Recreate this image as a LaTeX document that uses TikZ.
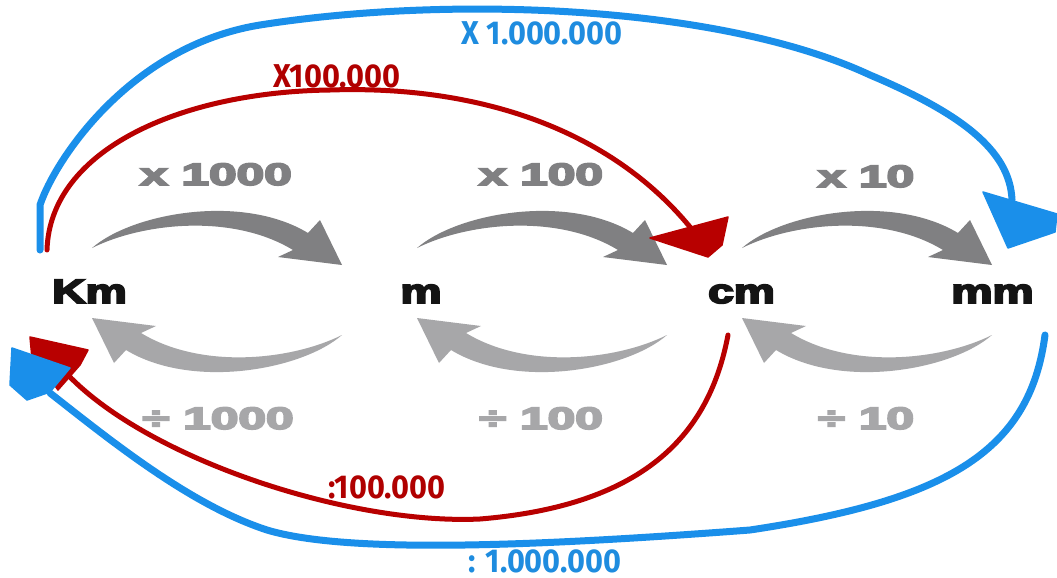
\documentclass[tikz,border=0pt]{standalone}
\usepackage{fontspec}
\setmainfont{Liberation Sans}
\newfontfamily\heavyfont{Liberation Sans Bold}[FakeBold=5]
\newfontfamily\labfont{Fira Sans}
\definecolor{gdark}{HTML}{808082}
\definecolor{glight}{HTML}{A7A7A9}
\definecolor{bline}{HTML}{1A8FEA}
\definecolor{btext}{HTML}{1E8CDF}
\definecolor{rline}{HTML}{B80000}
\definecolor{rtext}{HTML}{B00000}
\newcommand{\wideA}[1]{\scalebox{1.36}[1]{#1}}
\newcommand{\wideB}[1]{\scalebox{1.6}[1]{#1}}
\newcommand{\narrowC}[1]{\scalebox{0.93}[1]{#1}}
\tikzset{
  unitlbl/.style={font=\heavyfont\fontsize{34}{40}\selectfont, text=black!92, inner sep=0pt, anchor=base},
  mullbl/.style={font=\heavyfont\fontsize{31}{36}\selectfont, text=gdark, inner sep=0pt, anchor=base},
  divlbl/.style={font=\heavyfont\fontsize{31}{36}\selectfont, text=glight, inner sep=0pt, anchor=base},
  bluelbl/.style={font=\labfont\fontsize{33}{36}\selectfont\bfseries, text=btext, inner sep=0pt, anchor=base},
  redlbl/.style={font=\labfont\fontsize{33}{36}\selectfont\bfseries, text=rtext, inner sep=0pt, anchor=base},
  blueline/.style={draw=bline, line width=7pt, line cap=round, line join=round},
  redline/.style={draw=rline, line width=5pt, line cap=round, line join=round},
  bluehead/.style={fill=bline, draw=bline, line width=1.5pt, line join=round},
  redhead/.style={fill=rline, draw=rline, line width=1.5pt, line join=round},
  pics/grayarc/.style={code={
    \fill[pic actions] (0,0) .. controls (40,-35) and (150,-55) .. (216,-15)
      -- (228,-28) -- (250,17) -- (186,9) -- (201,2)
      .. controls (140,-35) and (50,-25) .. (0,0) -- cycle;
  }}
}
\begin{document}
\begin{tikzpicture}[x=1pt,y=-1pt]
\useasboundingbox[fill=white] (0,0) rectangle (1057,578);

% unit nodes
\node[unitlbl] (km) at (89.5,303) {\wideA{Km}};
\node[unitlbl] (m)  at (421,303) {\wideA{m}};
\node[unitlbl] (cm) at (741.5,303) {\wideA{cm}};
\node[unitlbl] (mm) at (992.5,303) {\wideA{mm}};

% gray labels
\node[mullbl] (x1000) at (216,185) {\wideB{x 1000}};
\node[mullbl] (x100)  at (541,185) {\wideB{x 100}};
\node[mullbl] (x10)   at (866,187) {\wideB{x 10}};
\node[divlbl] (d1000) at (218,429) {\wideB{÷ 1000}};
\node[divlbl] (d100)  at (541,429) {\wideB{÷ 100}};
\node[divlbl] (d10)   at (866,429) {\wideB{÷ 10}};

% gray arrows
\coordinate (t1) at (92,248);
\coordinate (t2) at (417,248);
\coordinate (t3) at (742,248);
\coordinate (u1) at (342,335);
\coordinate (u2) at (667,335);
\coordinate (u3) at (992,335);
\pic[fill=gdark] at (t1) {grayarc};
\pic[fill=gdark] at (t2) {grayarc};
\pic[fill=gdark] at (t3) {grayarc};
\pic[fill=glight, rotate=180] at (u1) {grayarc};
\pic[fill=glight, rotate=180] at (u2) {grayarc};
\pic[fill=glight, rotate=180] at (u3) {grayarc};

% connector end points
\coordinate (kmBtop) at (40,250);
\coordinate (kmRtop) at (47,250);
\coordinate (cmRin) at (690,227);
\coordinate (mmBin) at (1012,200);
\coordinate (cmRout) at (728,335);
\coordinate (mmBout) at (1045,335);
\coordinate (kmRin) at (68,375);
\coordinate (kmBin) at (50,393);

% blue top: Km -> mm
\draw[blueline] (kmBtop) -- (40,205) .. controls (55,160) and (130,46) .. (260,25)
  .. controls (450,-5) and (720,5) .. (870,75)
  .. controls (960,113) and (1010,150) .. (mmBin);
\fill[bluehead] (983,192) -- (1057,214) -- (1055,232) -- (1008,248) -- cycle;

% red top: Km -> cm
\draw[redline] (kmRtop) .. controls (50,150) and (180,92) .. (330,90)
  .. controls (480,85) and (610,130) .. (cmRin);
\fill[redhead] (650,238) -- (728,217) -- (722,245) -- (708,257) -- cycle;

% red bottom: cm -> Km
\draw[redline] (cmRout) .. controls (710,430) and (650,505) .. (480,519)
  .. controls (350,525) and (150,460) .. (kmRin);
\fill[redhead] (30,337) -- (88,350) -- (80,365) -- (58,390) -- (45,372) -- (32,358) -- cycle;

% blue bottom: mm -> Km
\draw[blueline] (mmBout) .. controls (1030,450) and (950,500) .. (750,530)
  .. controls (550,545) and (350,555) .. (267,530)
  .. controls (190,505) and (110,440) .. (kmBin);
\fill[bluehead] (12,348) -- (70,368) -- (50,392) -- (27,400) -- (10,385) -- cycle;

% colored labels
\node[bluelbl] (bx) at (542,45) {\narrowC{X 1.000.000}};
\node[redlbl] (rx) at (337,88) {\narrowC{X100.000}};
\node[redlbl] (rd) at (387,498) {\narrowC{:100.000}};
\node[bluelbl] (bd) at (545,572) {\narrowC{: 1.000.000}};
\end{tikzpicture}
\end{document}
